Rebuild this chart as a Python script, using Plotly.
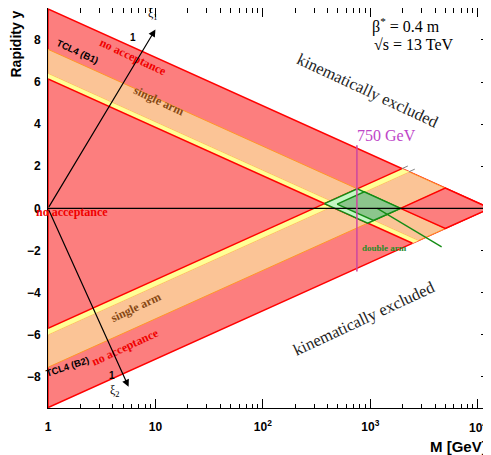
import numpy as np
import plotly.graph_objects as go

# ---------------- data ----------------
sqrt_s = 13000.0            # GeV
xi_max = 0.147              # upper acceptance limit (both arms)
xi1_orange_min = 0.046      # beam 1 single-arm lower limit
xi1_yellow_min = 0.036      # beam 1 extended (yellow) lower limit
xi2_orange_min = 0.031      # beam 2 single-arm lower limit
xi2_yellow_min = 0.023      # beam 2 extended (yellow) lower limit

mass_line_M = [750.0, 750.0]
mass_line_y = [-3.0, 3.0]
green_line_M = [1160.0, 4610.0]
green_line_y = [0.0, -1.83]

xi1_arrow = [0.0, 0.0, 1.0, 8.5]      # log10 M tail, y tail, log10 M head, y head
xi2_arrow = [0.0, 0.0, 0.75, -8.48]

x_tick_vals = [1, 10, 100, 1000, 10000]
x_tick_text = ["1", "10", "10<sup>2</sup>", "10<sup>3</sup>", ""]
x_last_tick_text = "10<sup>4</sup>"
y_tick_vals = [-8, -6, -4, -2, 0, 2, 4, 6, 8]

# ---------------- geometry helpers ----------------
K = np.log(sqrt_s)


def uv(u, v):
    u = np.asarray(u, float)
    v = np.asarray(v, float)
    return np.exp((u + v) / 2.0), (u - v) / 2.0


def closed(us, vs):
    us = list(us) + [us[0]]
    vs = list(vs) + [vs[0]]
    return uv(us, vs)


ub = np.log(xi_max * sqrt_s)
uo1 = np.log(xi1_orange_min * sqrt_s)
uy1 = np.log(xi1_yellow_min * sqrt_s)
vo2 = np.log(xi2_orange_min * sqrt_s)
vy2 = np.log(xi2_yellow_min * sqrt_s)

RED_F = "rgb(252,126,126)"
RED_L = "rgb(255,0,0)"
ORA_F = "rgb(251,196,150)"
ORA_L = "rgb(255,150,40)"
YEL_F = "rgb(255,255,150)"
LGR_F = "rgb(196,246,196)"
DGR_F = "rgb(140,198,140)"
GR_L = "rgb(20,140,20)"

fig = go.Figure()


def poly(xy, fill, line, width=1.0):
    fig.add_trace(go.Scatter(x=xy[0], y=xy[1], mode="lines", fill="toself",
                             fillcolor=fill, line=dict(color=line, width=width),
                             hoverinfo="skip", showlegend=False))


def seg(xy, color, width=1.0):
    fig.add_trace(go.Scatter(x=xy[0], y=xy[1], mode="lines",
                             line=dict(color=color, width=width),
                             hoverinfo="skip", showlegend=False))


# kinematic triangle
poly(closed([K, K, -K], [-K, K, K]), RED_F, RED_L, 1.5)
# beam-1 band (xi1)
poly(closed([uo1, ub, ub, uo1], [-uo1, -ub, K, K]), ORA_F, ORA_L, 1.0)
poly(closed([uy1, uo1, uo1, uy1], [-uy1, -uo1, K, K]), YEL_F, YEL_F, 0.5)
# beam-2 band (xi2)
poly(closed([-vo2, -ub, K, K], [vo2, ub, ub, vo2]), ORA_F, ORA_L, 1.0)
poly(closed([-vy2, -vo2, K, K], [vy2, vo2, vo2, vy2]), YEL_F, YEL_F, 0.5)
# red acceptance edges
seg(uv([uy1, uy1], [-uy1, K]), RED_L, 1.5)
seg(uv([-vy2, K], [vy2, vy2]), RED_L, 1.5)
# both arms out of acceptance
poly(closed([ub, K, K, ub], [ub, ub, K, K]), RED_F, RED_L, 1.5)
# double arm region
poly(closed([uy1, ub, ub, uy1], [vy2, vy2, ub, ub]), LGR_F, GR_L, 1.5)
poly(closed([uo1, ub, ub, uo1], [vo2, vo2, ub, ub]), DGR_F, GR_L, 1.5)
seg((green_line_M, green_line_y), GR_L, 1.3)
# small grey tails beyond the kinematic limit
seg(uv([K, K + 0.25], [vy2, vy2]), "rgb(130,130,130)", 1.0)
seg(uv([K, K + 0.25], [vo2, vo2]), "rgb(130,130,130)", 1.0)
# y = 0 axis line
seg(([1.0, sqrt_s], [0.0, 0.0]), "black", 1.2)
# 750 GeV line
seg((mass_line_M, mass_line_y), "rgb(205,70,160)", 1.5)

SERIF = "Liberation Serif"
SANS = "Liberation Sans"
ann = []


def txt(x, y, s, size, color="black", angle=0, family=SERIF, weight="normal",
        xanchor="center", yanchor="middle", xref="x", yref="y"):
    ann.append(dict(x=x, y=y, xref=xref, yref=yref, text=s, showarrow=False,
                    textangle=angle, xanchor=xanchor, yanchor=yanchor,
                    font=dict(family=family, size=size, color=color, weight=weight)))


txt(3.0, 8.71, "\u03b2<sup>*</sup> = 0.4 m", 16, xanchor="left")
txt(3.02, 7.77, "\u221as = 13 TeV", 16, xanchor="left")
txt(2.976, 5.62, "kinematically excluded", 16.5, "rgb(30,30,30)", 25)
txt(2.94, -5.23, "kinematically excluded", 16.5, "rgb(30,30,30)", -25)
txt(2.862, 3.44, "750 GeV", 16, "rgb(190,70,200)", xanchor="left")
txt(0.794, 7.19, "no acceptance", 12, "rgb(240,0,0)", 25, weight="bold")
txt(1.036, 5.10, "single arm", 12, "rgb(135,72,20)", 25, weight="bold")
txt(0.273, 7.45, "TCL4 (B1)", 9.5, "black", 25, family=SANS, weight="bold")
txt(0.226, -0.18, "no acceptance", 12, "rgb(240,0,0)", 0, weight="bold")
txt(0.822, -4.69, "single arm", 12, "rgb(135,72,20)", -25, weight="bold")
txt(0.72, -6.59, "no acceptance", 12, "rgb(240,0,0)", -25, weight="bold")
txt(0.18, -7.52, "TCL4 (B2)", 9.5, "black", -18, family=SANS, weight="bold")
txt(3.131, -1.90, "double arm", 9, "rgb(40,140,40)", weight="bold")
txt(0.794, 8.13, "1", 10, "black", family=SANS, weight="bold")
txt(0.599, -7.93, "1", 10, "black", family=SANS, weight="bold")
txt(0.98, 9.25, "\u03be<sub>1</sub>", 12)
txt(0.627, -8.66, "\u03be<sub>2</sub>", 12)
# last x tick label, kept inside the page
txt(0.9977, -0.0475, x_last_tick_text, 12, family=SANS, weight="bold",
    xanchor="right", xref="paper", yref="paper")
# axis titles
txt(-0.0735, 0.91, "Rapidity y", 14, angle=-90, family=SANS, weight="bold",
    xref="paper", yref="paper")
txt(0.998, -0.0975, "M [GeV]", 15, family=SANS, weight="bold", xanchor="right",
    xref="paper", yref="paper")

for a in (xi1_arrow, xi2_arrow):
    ann.append(dict(x=a[2], y=a[3], ax=a[0], ay=a[1], xref="x", yref="y",
                    axref="x", ayref="y", showarrow=True, arrowhead=2,
                    arrowsize=1.2, arrowwidth=1.2, arrowcolor="black", text=""))

# the page body has an 8px default margin, so the figure is 8px smaller
fig.update_layout(
    width=483, height=447,
    margin=dict(l=40, r=1, t=0, b=47, autoexpand=False),
    paper_bgcolor="white", plot_bgcolor="white",
    showlegend=False,
    annotations=ann,
)
fig.update_xaxes(type="log", range=[0, np.log10(sqrt_s)], showline=True,
                 linecolor="black", linewidth=1, mirror="allticks",
                 ticks="inside", ticklen=9, tickcolor="black",
                 tickvals=x_tick_vals, ticktext=x_tick_text,
                 tickfont=dict(family=SANS, size=12, color="black", weight="bold"),
                 ticklabelstandoff=8, automargin=False,
                 minor=dict(ticks="inside", ticklen=4.5, tickcolor="black",
                            dtick="D1", showgrid=False),
                 showgrid=False, zeroline=False)
fig.update_yaxes(range=[-9.49, 9.52], showline=True, linecolor="black",
                 linewidth=1, mirror="allticks", ticks="inside", ticklen=9,
                 tickcolor="black", tickvals=y_tick_vals,
                 tickfont=dict(family=SANS, size=12, color="black", weight="bold"),
                 ticklabelstandoff=4, automargin=False,
                 minor=dict(ticks="inside", ticklen=4.5, tickcolor="black",
                            dtick=0.5, showgrid=False),
                 showgrid=False, zeroline=False, layer="below traces")

fig.write_html("out.html")
